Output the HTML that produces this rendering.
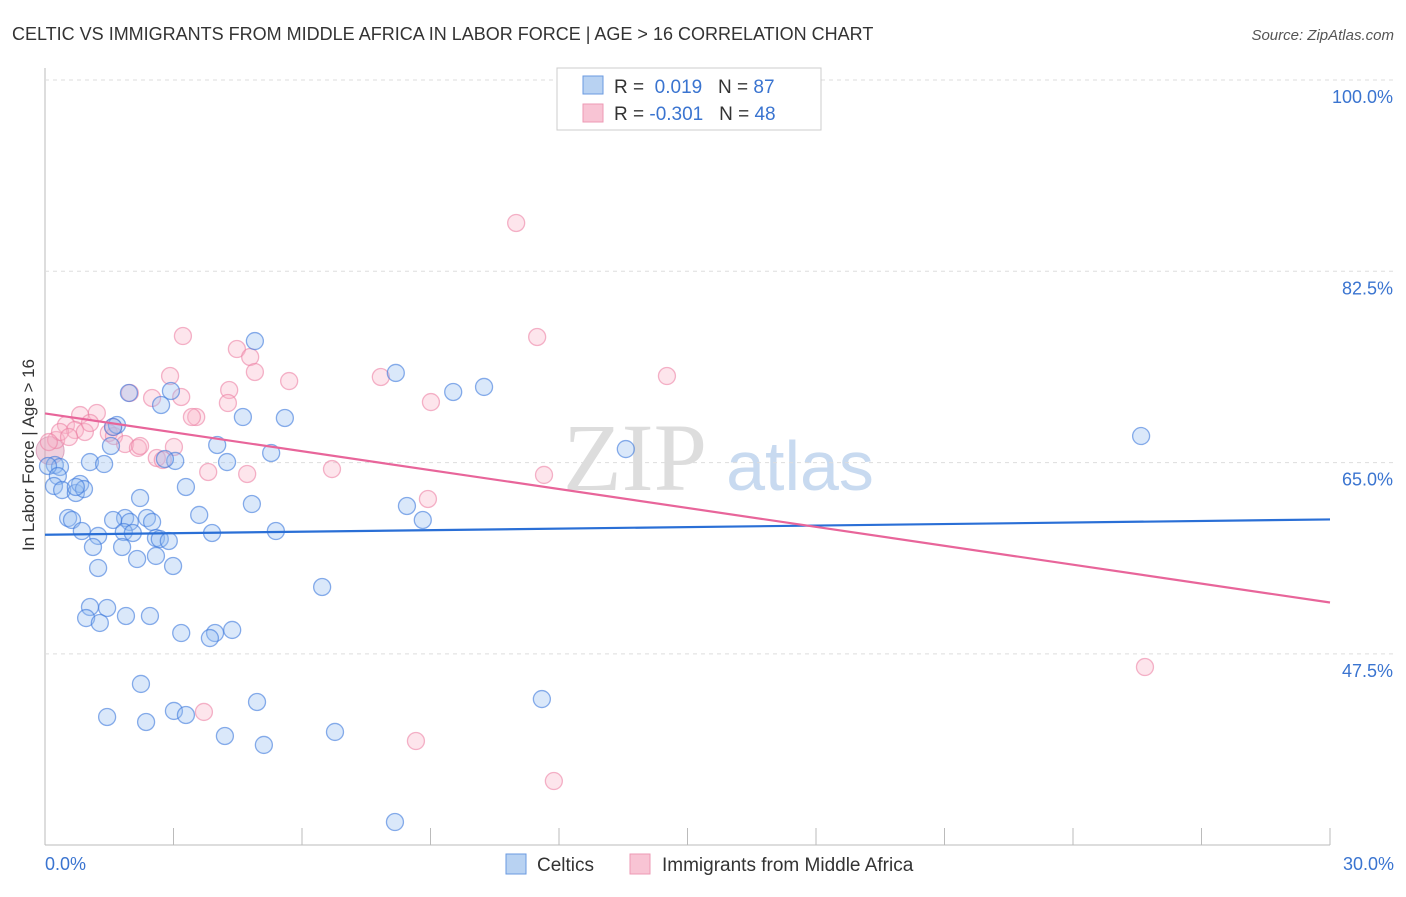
<!DOCTYPE html>
<html><head><meta charset="utf-8"><style>
body{margin:0;background:#fff;font-family:"Liberation Sans",sans-serif}
</style></head><body>
<svg width="1406" height="892" xmlns="http://www.w3.org/2000/svg" id="chart" font-family="Liberation Sans, sans-serif">
<text x="12" y="40" font-size="18" fill="#333">CELTIC VS IMMIGRANTS FROM MIDDLE AFRICA IN LABOR FORCE | AGE &gt; 16 CORRELATION CHART</text>
<text x="1394" y="40" font-size="15" fill="#555" text-anchor="end" font-style="italic">Source: ZipAtlas.com</text>
<text x="635" y="490" font-size="96" fill="#ddd" font-family="Liberation Serif, serif" text-anchor="middle">ZIP</text>
<text x="800" y="490" font-size="70" fill="#c8daf0" text-anchor="middle">atlas</text>
<g id="grid"></g><g id="pts"></g><g id="lines"></g>
<text x="34" y="455" font-size="17" fill="#333" text-anchor="middle" transform="rotate(-90 34 455)">In Labor Force | Age &gt; 16</text>
<text x="45" y="870" font-size="18" fill="#3a74d0">0.0%</text>
<text x="1394" y="870" font-size="18" fill="#3a74d0" text-anchor="end">30.0%</text>
<g>
<rect x="557" y="68" width="264" height="62" fill="#fff" stroke="#ccc"/>
<rect x="583" y="76" width="20" height="18" fill="#b8d2f2" stroke="#6a9ae0"/>
<rect x="583" y="104" width="20" height="18" fill="#f8c4d4" stroke="#ee9ab4"/>
<text x="614" y="93" font-size="19" fill="#333">R = <tspan fill="#3a74d0">&#160;0.019</tspan>&#160;&#160;&#160;N = <tspan fill="#3a74d0">87</tspan></text>
<text x="614" y="120" font-size="19" fill="#333">R = <tspan fill="#3a74d0">-0.301</tspan>&#160;&#160;&#160;N = <tspan fill="#3a74d0">48</tspan></text>
</g>
<g>
<rect x="506" y="854" width="20" height="20" fill="#b8d2f2" stroke="#6a9ae0"/>
<text x="537" y="871" font-size="19" fill="#333">Celtics</text>
<rect x="630" y="854" width="20" height="20" fill="#f8c4d4" stroke="#ee9ab4"/>
<text x="662" y="871" font-size="19" fill="#333">Immigrants from Middle Africa</text>
</g>
</svg>
<script>
const yTicks=[100,82.5,65,47.5];
const xTicks=[0,3,6,9,12,15,18,21,24,27,30];
const bluePx=[[255,341],[129,393],[171,391],[161,405],[396,373],[453,392],[484,387],[243,417],[285,418],[117,425],[113,427],[217,445],[111,446],[271,453],[626,449],[1141,436],[90,462],[104,464],[175,461],[227,462],[165,459],[55,465],[60,467],[48,466],[58,476],[54,486],[62,490],[76,493],[80,484],[84,489],[76,487],[186,487],[252,504],[140,498],[407,506],[423,520],[199,515],[68,518],[72,520],[125,518],[147,518],[152,522],[130,522],[113,520],[82,531],[98,536],[124,532],[133,533],[156,538],[160,539],[169,541],[212,533],[276,531],[93,547],[122,547],[137,559],[156,556],[98,568],[173,566],[322,587],[90,607],[107,608],[86,618],[100,623],[126,616],[150,616],[181,633],[215,633],[210,638],[232,630],[141,684],[174,711],[186,715],[257,702],[146,722],[107,717],[225,736],[264,745],[335,732],[542,699],[395,822]];
const pinkPx=[[516,223],[183,336],[237,349],[250,357],[255,372],[170,376],[130,393],[152,398],[181,397],[229,390],[228,403],[289,381],[381,377],[537,337],[667,376],[431,402],[196,417],[192,417],[97,413],[80,415],[66,425],[75,430],[85,432],[90,423],[109,433],[114,436],[56,440],[60,432],[69,437],[49,442],[125,444],[138,448],[140,446],[174,447],[157,458],[163,460],[208,472],[247,474],[332,469],[544,475],[428,499],[204,712],[416,741],[554,781],[1145,667],[113,427]];
// convert read pixel positions into data values (percent)
const blueX=bluePx.map(p=>+((p[0]-45)/1285*30).toFixed(2)), blueY=bluePx.map(p=>+(100-(p[1]-80)/191.3*17.5).toFixed(2));
const pinkX=pinkPx.map(p=>+((p[0]-45)/1285*30).toFixed(2)), pinkY=pinkPx.map(p=>+(100-(p[1]-80)/191.3*17.5).toFixed(2));
const blueTrend=[58.4,59.8], pinkTrend=[69.5,52.2];
const X=v=>45+v/30*1285, Y=v=>80+(100-v)/17.5*191.3;
const NS='http://www.w3.org/2000/svg';
function mk(t,a,p){const e=document.createElementNS(NS,t);for(const k in a)e.setAttribute(k,a[k]);p.appendChild(e);return e;}
const g=document.getElementById('grid');
mk('line',{x1:45,y1:68,x2:45,y2:845,stroke:'#bbb'},g);
mk('line',{x1:45,y1:845,x2:1330,y2:845,stroke:'#bbb'},g);
yTicks.forEach(v=>{const l=mk('line',{x1:45,x2:1394,y1:Y(v),y2:Y(v),stroke:'#ddd','stroke-dasharray':'4,4'},g);

const t=mk('text',{x:1393,y:Y(v)+23,'font-size':18,fill:'#3a74d0','text-anchor':'end'},g);t.textContent=v.toFixed(1)+'%';
});
xTicks.forEach(v=>{const l=mk('line',{x1:X(v),x2:X(v),y1:828,y2:845,stroke:'#bbb'},g);
});
const pg=document.getElementById('pts');
const big=mk('circle',{cx:X(0.12),cy:Y(66.1),r:14,fill:'rgba(220,150,180,0.45)',stroke:'rgba(200,120,160,0.6)'},pg);

pinkX.forEach((x,i)=>{const c=mk('circle',{cx:X(x),cy:Y(pinkY[i]),r:8.5,fill:'rgba(248,180,200,0.35)',stroke:'rgba(236,130,165,0.6)','stroke-width':1.3},pg);
});
blueX.forEach((x,i)=>{const c=mk('circle',{cx:X(x),cy:Y(blueY[i]),r:8.5,fill:'rgba(150,190,240,0.35)',stroke:'rgba(60,120,220,0.6)','stroke-width':1.3},pg);
});
const lg=document.getElementById('lines');
const bl=mk('line',{x1:X(0),y1:Y(blueTrend[0]),x2:X(30),y2:Y(blueTrend[1]),stroke:'#2a6fd6','stroke-width':2.2},lg);

const pl=mk('line',{x1:X(0),y1:Y(pinkTrend[0]),x2:X(30),y2:Y(pinkTrend[1]),stroke:'#e8659a','stroke-width':2.2},lg);

</script>
</body></html>
